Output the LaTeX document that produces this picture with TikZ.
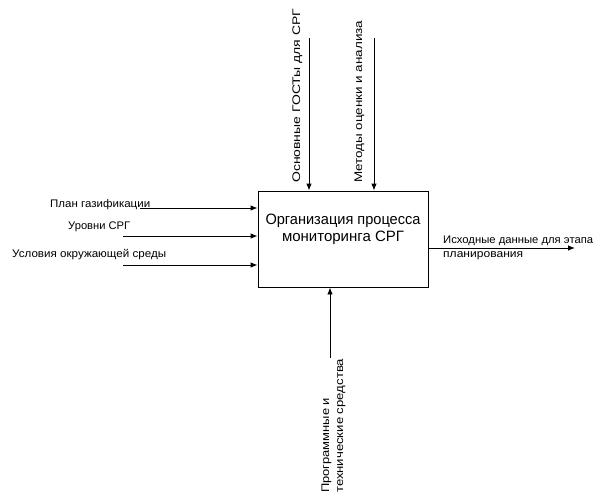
\documentclass[tikz,border=0pt]{standalone}
\usepackage{fontspec}
\setmainfont{Liberation Sans}
\usetikzlibrary{arrows.meta}
\newcommand\fw[2]{\resizebox{#1pt}{\height}{#2}}
\begin{document}
\begin{tikzpicture}[x=1pt,y=-1pt,
  arr/.style={draw=black,line width=0.9pt,-{Latex[length=7pt,width=5.5pt]}},
  lbl/.style={font=\fontsize{11}{12}\selectfont,inner sep=0pt},
  boxst/.style={draw=black,line width=0.9pt,minimum width=170pt,minimum height=96pt,inner sep=0pt,align=center,font=\fontsize{15}{17}\selectfont}]
\useasboundingbox (0,0) rectangle (599,496);
\node[boxst] (A) at (343,239) {};
\node[font=\fontsize{15}{17}\selectfont,inner sep=0pt,anchor=base] (A1) at (343,224) {\fw{155}{Организация процесса}};
\node[font=\fontsize{15}{17}\selectfont,inner sep=0pt,anchor=base] (A2) at (343,241) {\fw{122}{мониторинга СРГ}};
% inputs
\coordinate (i1) at (140,208);
\coordinate (i2) at (123,236);
\coordinate (i3) at (123,265);
\draw[arr] (i1) -- (A.west |- i1);
\draw[arr] (i2) -- (A.west |- i2);
\draw[arr] (i3) -- (A.west |- i3);
\node[lbl,anchor=base west] (t1) at (50,207) {\fw{100}{План газификации}};
\node[lbl,anchor=base west] (t2) at (68,229) {\fw{62}{Уровни СРГ}};
\node[lbl,anchor=base west] (t3) at (12,257) {\fw{154}{Условия окружающей среды}};
% controls
\coordinate (c1) at (309,38);
\coordinate (c2) at (374,38);
\draw[arr] (c1) -- (c1 |- A.north);
\draw[arr] (c2) -- (c2 |- A.north);
\node[lbl,rotate=90,anchor=base west] (t4) at (300,183) {\fw{174}{Основные ГОСТы для СРГ}};
\node[lbl,rotate=90,anchor=base west] (t5) at (362,183) {\fw{162}{Методы оценки и анализа}};
% output
\coordinate (o1) at (575,248);
\draw[arr] (A.east |- o1) -- (o1);
\node[lbl,anchor=base west] (t6) at (443,243) {\fw{150}{Исходные данные для этапа}};
\node[lbl,anchor=base west] (t7) at (443,257) {\fw{80}{планирования}};
% mechanism
\coordinate (m1) at (330,358);
\draw[arr] (m1) -- (m1 |- A.south);
\node[lbl,rotate=90,anchor=base west] (t8) at (329,493) {\fw{95}{Программные и}};
\node[lbl,rotate=90,anchor=base west] (t9) at (343,493) {\fw{134}{технические средства}};
\end{tikzpicture}
\end{document}
